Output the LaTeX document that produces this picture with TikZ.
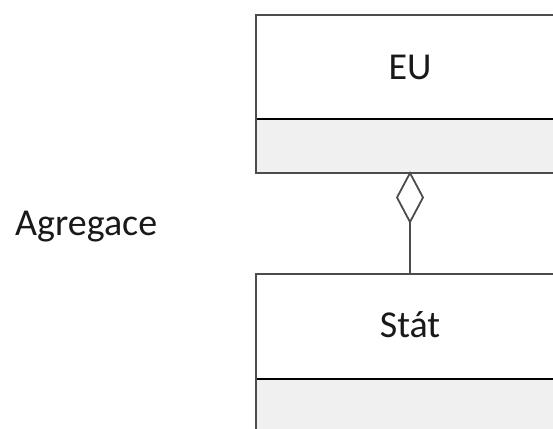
\documentclass[tikz,border=0pt]{standalone}
\usepackage{fontspec}
\setmainfont{Carlito}
\begin{document}
\begin{tikzpicture}[x=1pt,y=-1pt,
  lbl/.style={font=\fontsize{38}{40}\selectfont, text=black!90, inner sep=0pt},
  frame/.style={draw=black!70, line width=2pt},
  divider/.style={draw=black, line width=1.2pt},
  comp/.style={fill=black!6}]
\useasboundingbox (0,0) rectangle (553,428);
\clip (0,0) rectangle (553,428);
% EU box
\fill[comp] (256,119) rectangle (600,173);
\draw[divider] (256,119) -- (600,119);
\draw[frame] (600,15) -- (256,15) -- (256,173) -- (600,173);
\node[lbl, anchor=base] (eu) at (410,79) {EU};
% Stat box
\fill[comp] (256,379) rectangle (600,460);
\draw[divider] (256,379) -- (600,379);
\draw[frame] (600,274) -- (256,274) -- (256,460);
\node[lbl, anchor=base] (stat) at (410,337) {Stát};
% connector
\coordinate (dtop) at (410,173);
\coordinate (dbot) at (410,222);
\coordinate (ltop) at (410,274);
\draw[draw=black!70, line width=1.8pt] (dbot) -- (ltop);
\draw[draw=black!70, line width=1.8pt, fill=white, line join=miter] (dtop) -- (397,197.5) -- (dbot) -- (423,197.5) -- cycle;
\node[lbl, anchor=base west] (agg) at (15,235) {Agregace};
\end{tikzpicture}
\end{document}
